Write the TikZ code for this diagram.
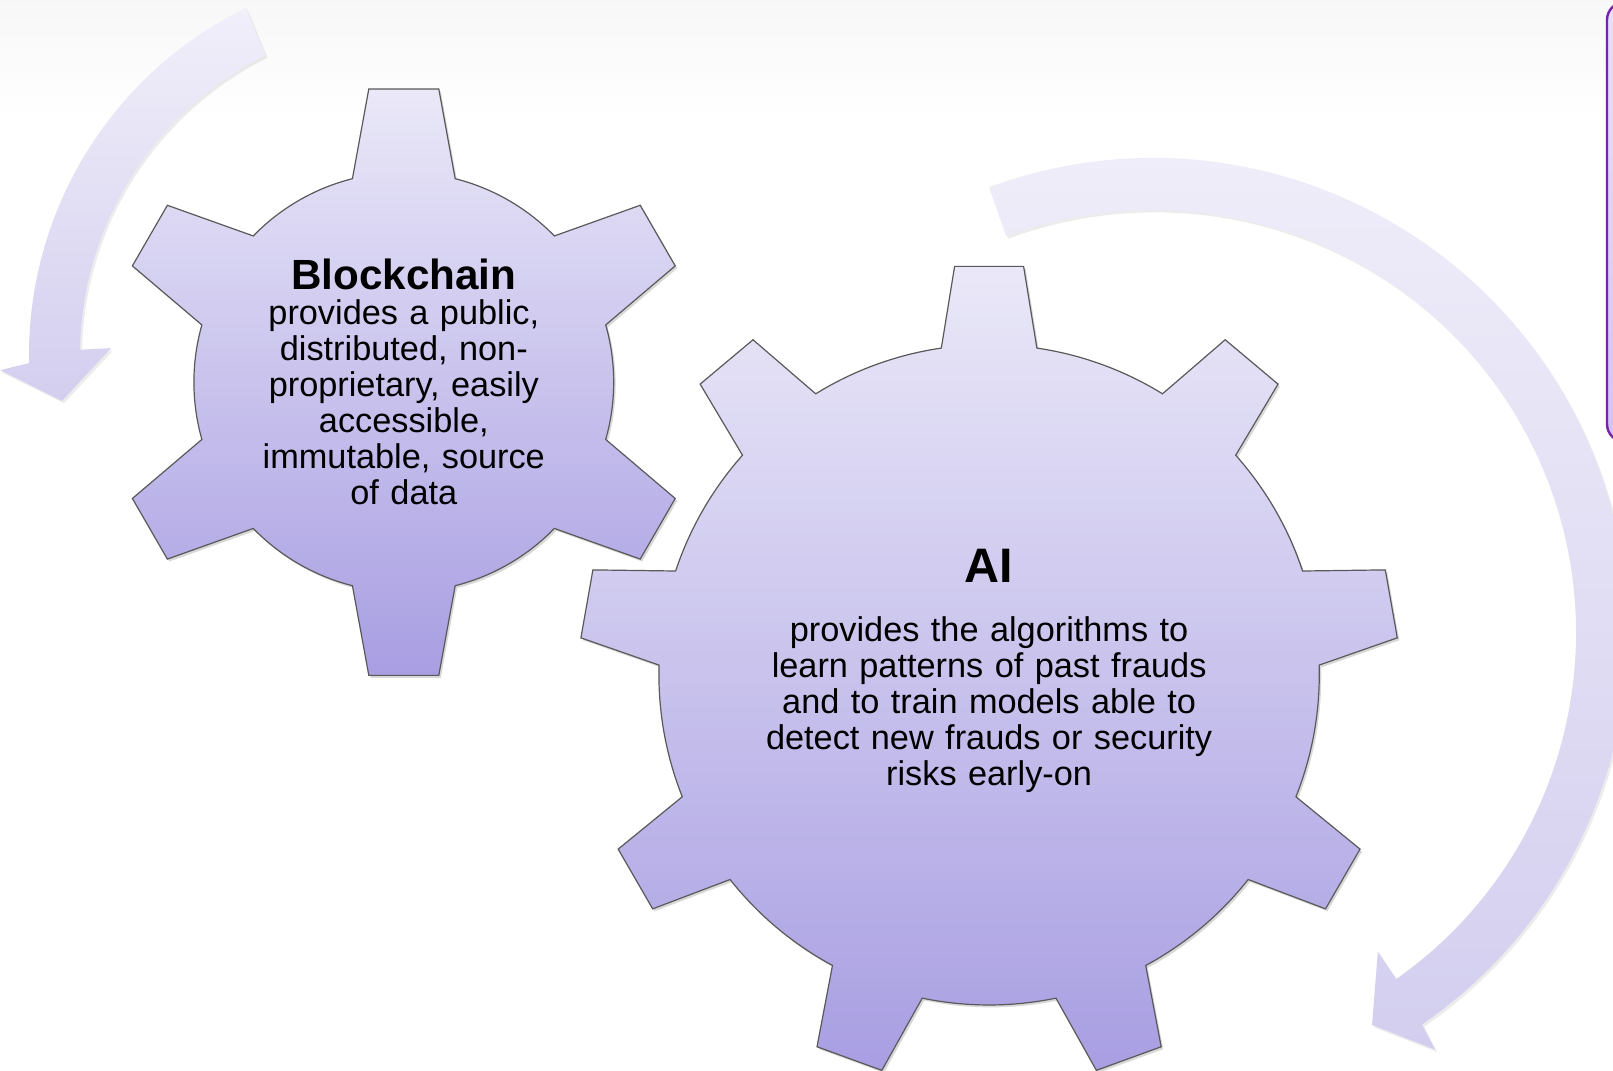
\documentclass[tikz,border=0pt]{standalone}
\usepackage{fontspec}
\setmainfont{Liberation Sans}
\usetikzlibrary{calc,shadows}
\definecolor{gtop}{RGB}{234,232,248}
\definecolor{gbot}{RGB}{168,158,226}
\definecolor{atop}{RGB}{241,239,250}
\definecolor{abot}{RGB}{211,206,239}
\definecolor{boxline}{RGB}{118,36,168}
\definecolor{boxtop}{RGB}{234,224,248}
\definecolor{boxbot}{RGB}{214,194,243}
\tikzset{
  gearshape/.style={draw=black!65, line width=0.6pt, top color=gtop, bottom color=gbot,
    drop shadow={opacity=0.3, shadow xshift=1pt, shadow yshift=-1.2pt}},
  arrowshape/.style={draw=none, top color=atop, bottom color=abot,
    drop shadow={opacity=0.15, shadow xshift=1pt, shadow yshift=-1.2pt}},
  titletext/.style={anchor=base, inner sep=0pt, font=\fontsize{#1}{#1}\selectfont\bfseries},
  bodytext/.style={anchor=base, inner sep=0pt, align=center, text width=250pt,
    font=\fontsize{17.15}{18}\selectfont},
}
\begin{document}
\begin{tikzpicture}[x=0.5pt,y=0.5pt]
\useasboundingbox (0,0) rectangle (1613,1071);
\clip (0,0) rectangle (1613,1071);
\fill[white] (0,0) rectangle (1613,1071);
\shade[top color=black!3, bottom color=white] (0,950) rectangle (1613,1071);

% centres
\coordinate (c1) at (415,716);
\coordinate (c2) at (1153,438);
\coordinate (sg) at (403.8,688.8);
\coordinate (lg) at (989.1,396.2);

% purple box at right edge
\shadedraw[draw=boxline, line width=1.2pt, top color=boxtop, bottom color=boxbot,
  rounded corners=9pt] (1607,629) rectangle (1720,1069);

% circular arrows
\path[arrowshape] ($(c1)+(116:386)$) arc[start angle=116,end angle=181.2,radius=386]
  -- ($(c1)+(182.1:415)$) -- ($(c1)+(187.4:356)$) -- ($(c1)+(178.7:304)$)
  -- ($(c1)+(179.1:335)$) arc[start angle=179.1,end angle=116.5,radius=335] -- cycle;

\path[arrowshape] ($(c2)+(110.2:475)$) arc[start angle=110.2,end angle=-55.5,radius=475]
  -- ($(c2)+(-55.9:503)$) -- ($(c2)+(-60.8:449)$) -- ($(c2)+(-54.8:390)$)
  -- ($(c2)+(-54.9:423)$) arc[start angle=-54.9,end angle=110.3,radius=423] -- cycle;

% small gear (6 teeth)
\path[gearshape] ($(sg)+(75.83:209.9)$)
  \foreach \t in {90,150,210,270,330,390}{
    -- ($(sg)+(\t:293.2)+(\t-90:35)$) -- ($(sg)+(\t:293.2)+(\t+90:35)$)
    -- ($(sg)+(\t+14.17:209.9)$)
    arc[start angle=\t+14.17, end angle=\t+45.83, radius=209.9]
  } -- cycle;

% large gear (9 teeth)
\path[gearshape] ($(lg)+(81.68:330.2)$)
  \foreach \t in {90,130,...,410}{
    -- ($(lg)+(\t:408.4)+(\t-90:34.5)$) -- ($(lg)+(\t:408.4)+(\t+90:34.5)$)
    -- ($(lg)+(\t+8.32:330.2)$)
    arc[start angle=\t+8.32, end angle=\t+31.68, radius=330.2]
  } -- cycle;

% texts
\node[titletext=21.1] (bctitle) at (403.8,781) {Blockchain};
\node[bodytext] (bcbody) at (403.8,746) {provides a public,\\distributed, non-\\proprietary, easily\\accessible,\\immutable, source\\of data};
\node[titletext=24.2] (aititle) at (989.1,488) {AI};
\node[bodytext] (aibody) at (989.1,429) {provides the algorithms to\\learn patterns of past frauds\\and to train models able to\\detect new frauds or security\\risks early-on};
\end{tikzpicture}
\end{document}
